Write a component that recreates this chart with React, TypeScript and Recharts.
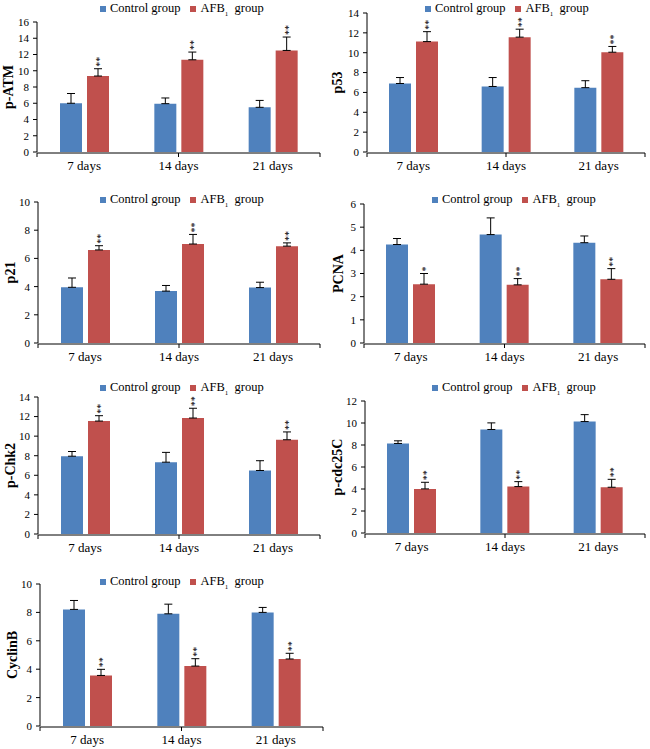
import React from 'react';
import { BarChart, Bar, XAxis, YAxis, Legend, ErrorBar, LabelList } from 'recharts';

const categories = ['7 days', '14 days', '21 days'];
const controlName = 'Control group';
const afbName = 'AFB1 group';

const pAtmControl = [6.0, 5.95, 5.5];
const pAtmControlErr = [1.2, 0.7, 0.85];
const pAtmAfb = [9.35, 11.35, 12.5];
const pAtmAfbErr = [0.9, 0.95, 1.65];
const pAtmStars = ['**', '**', '**'];
const pAtmTicks = [0, 2, 4, 6, 8, 10, 12, 14, 16];

const p53Control = [6.9, 6.6, 6.48];
const p53ControlErr = [0.6, 0.9, 0.7];
const p53Afb = [11.12, 11.57, 10.05];
const p53AfbErr = [1.0, 0.8, 0.58];
const p53Stars = ['**', '**', '**'];
const p53Ticks = [0, 2, 4, 6, 8, 10, 12, 14];

const p21Control = [3.95, 3.68, 3.93];
const p21ControlErr = [0.66, 0.4, 0.38];
const p21Afb = [6.6, 7.02, 6.87];
const p21AfbErr = [0.3, 0.68, 0.23];
const p21Stars = ['**', '**', '**'];
const p21Ticks = [0, 2, 4, 6, 8, 10];

const pcnaControl = [4.25, 4.68, 4.33];
const pcnaControlErr = [0.26, 0.72, 0.29];
const pcnaAfb = [2.54, 2.51, 2.75];
const pcnaAfbErr = [0.46, 0.27, 0.46];
const pcnaStars = ['*', '**', '**'];
const pcnaTicks = [0, 1, 2, 3, 4, 5, 6];

const chk2Control = [7.95, 7.34, 6.49];
const chk2ControlErr = [0.48, 1.0, 1.0];
const chk2Afb = [11.54, 11.85, 9.63];
const chk2AfbErr = [0.55, 1.0, 0.8];
const chk2Stars = ['**', '**', '**'];
const chk2Ticks = [0, 2, 4, 6, 8, 10, 12, 14];

const cdcControl = [8.14, 9.41, 10.13];
const cdcControlErr = [0.24, 0.6, 0.63];
const cdcAfb = [4.01, 4.22, 4.16];
const cdcAfbErr = [0.6, 0.45, 0.72];
const cdcStars = ['**', '**', '**'];
const cdcTicks = [0, 2, 4, 6, 8, 10, 12];

const cyclinControl = [8.21, 7.9, 8.0];
const cyclinControlErr = [0.63, 0.68, 0.35];
const cyclinAfb = [3.56, 4.22, 4.72];
const cyclinAfbErr = [0.43, 0.52, 0.4];
const cyclinStars = ['**', '**', '**'];
const cyclinTicks = [0, 2, 4, 6, 8, 10];

const boundaryTicks = [0, 1, 2, 3];

const BLUE = '#4F81BD';
const RED = '#C0504D';
const SERIF = '"Liberation Serif", "Times New Roman", serif';

type Row = {
  name: string;
  control: number;
  controlErr: number[];
  afb: number;
  afbErr: number[];
  stars: string;
};

function buildRows(c: number[], ce: number[], a: number[], ae: number[], s: string[]): Row[] {
  return categories.map((name, i) => ({
    name,
    control: c[i],
    controlErr: [0, ce[i]],
    afb: a[i],
    afbErr: [0, ae[i]],
    stars: s[i],
  }));
}

const panels = [
  { title: 'p-ATM', rows: buildRows(pAtmControl, pAtmControlErr, pAtmAfb, pAtmAfbErr, pAtmStars), ticks: pAtmTicks,
    pos: { left: 0, top: 0, w: 325, h: 190, yW: 37, mt: 22, mb: 36, mr: 5, tx: 8, lx: 100, ly: 9 } },
  { title: 'p53', rows: buildRows(p53Control, p53ControlErr, p53Afb, p53AfbErr, p53Stars), ticks: p53Ticks,
    pos: { left: 325, top: 0, w: 325, h: 190, yW: 42, mt: 13, mb: 36, mr: 5, tx: 12, lx: 100, ly: 9 } },
  { title: 'p21', rows: buildRows(p21Control, p21ControlErr, p21Afb, p21AfbErr, p21Stars), ticks: p21Ticks,
    pos: { left: 0, top: 190, w: 325, h: 190, yW: 38, mt: 12, mb: 35, mr: 5, tx: 10, lx: 100, ly: 10 } },
  { title: 'PCNA', rows: buildRows(pcnaControl, pcnaControlErr, pcnaAfb, pcnaAfbErr, pcnaStars), ticks: pcnaTicks,
    pos: { left: 325, top: 190, w: 325, h: 190, yW: 39, mt: 14, mb: 35, mr: 5, tx: 13, lx: 107, ly: 10 } },
  { title: 'p-Chk2', rows: buildRows(chk2Control, chk2ControlErr, chk2Afb, chk2AfbErr, chk2Stars), ticks: chk2Ticks,
    pos: { left: 0, top: 380, w: 325, h: 190, yW: 38, mt: 17, mb: 34, mr: 5, tx: 10, lx: 100, ly: 8 } },
  { title: 'p-cdc25C', rows: buildRows(cdcControl, cdcControlErr, cdcAfb, cdcAfbErr, cdcStars), ticks: cdcTicks,
    pos: { left: 325, top: 380, w: 325, h: 190, yW: 40, mt: 21, mb: 35, mr: 5, tx: 12, lx: 107, ly: 8 } },
  { title: 'CyclinB', rows: buildRows(cyclinControl, cyclinControlErr, cyclinAfb, cyclinAfbErr, cyclinStars), ticks: cyclinTicks,
    pos: { left: 0, top: 560, w: 325, h: 189, yW: 40, mt: 24, mb: 21, mr: 2, tx: 12, lx: 100, ly: 22 } },
];

const makeStarLabel = (rows: Row[]) => (props: any) => {
  const { x, y, width, height, index } = props;
  const row = rows[index];
  if (!row || !row.stars) return null;
  const pxPerUnit = Number(height) / row.afb;
  const errTop = Number(y) - row.afbErr[1] * pxPerUnit;
  const cx = Number(x) + Number(width) / 2;
  const y0 = errTop - 2;
  return (
    <text
      x={cx}
      y={y0}
      dy="0.5em"
      transform={`rotate(-90 ${cx} ${y0})`}
      style={{ fontSize: 10, fontFamily: SERIF }}
      fill="#000"
      textAnchor="start"
    >
      {row.stars}
    </text>
  );
};

const legendFormatter = (value: any, entry: any) => {
  const key = entry && entry.dataKey;
  if (key === 'control') {
    return <span style={{ color: '#000', fontFamily: SERIF }}>{controlName}</span>;
  }
  return (
    <span style={{ color: '#000', fontFamily: SERIF }}>
      AFB<sub style={{ fontSize: 7, verticalAlign: 'sub' }}>1</sub>{'\u00a0 '}group
    </span>
  );
};

const legendOrder = (item: any) => (item && item.dataKey === 'control' ? 0 : 1);

function Panel({ p }: { p: (typeof panels)[number] }) {
  const { pos } = p;
  const max = p.ticks[p.ticks.length - 1];
  return (
    <div style={{ position: 'absolute', left: pos.left, top: pos.top, width: pos.w, height: pos.h }}>
      <BarChart
        width={pos.w}
        height={pos.h}
        data={p.rows}
        margin={{ top: pos.mt, right: pos.mr, bottom: pos.mb, left: 0 }}
        barGap={5}
        style={{ fontFamily: SERIF }}
      >
        <XAxis
          xAxisId="grid"
          type="number"
          domain={[0, 3]}
          ticks={boundaryTicks}
          allowDataOverflow
          height={1}
          interval={0}
          tickSize={4}
          tickFormatter={() => ''}
          axisLine={{ stroke: '#000' }}
          tickLine={{ stroke: '#000' }}
        />
        <XAxis
          xAxisId="cat"
          dataKey="name"
          height={1}
          axisLine={false}
          tickLine={false}
          tickSize={0}
          tickMargin={9}
          interval={0}
          tick={{ fontSize: 13, fill: '#000', style: { fontFamily: SERIF } }}
        />
        <YAxis
          width={pos.yW}
          domain={[0, max]}
          ticks={p.ticks}
          interval={0}
          allowDataOverflow
          tickSize={4}
          tickMargin={4}
          axisLine={{ stroke: '#000' }}
          tickLine={{ stroke: '#000' }}
          tick={{ fontSize: 11, fill: '#000', style: { fontFamily: SERIF } }}
          label={{
            value: p.title,
            angle: -90,
            position: 'insideLeft',
            offset: pos.tx,
            style: { textAnchor: 'middle', fontWeight: 'bold', fontSize: 14, fill: '#000', fontFamily: SERIF },
          }}
        />
        <Legend
          layout="horizontal"
          verticalAlign="middle"
          align="center"
          iconType="square"
          iconSize={6}
          itemSorter={legendOrder}
          formatter={legendFormatter}
          wrapperStyle={{
            top: pos.ly - 8,
            left: pos.lx,
            width: 'auto',
            fontSize: 12.5,
            lineHeight: '15px',
            fontFamily: SERIF,
            whiteSpace: 'nowrap',
          }}
        />
        <Bar xAxisId="cat" dataKey="control" name={controlName} fill={BLUE} barSize={22} isAnimationActive={false}>
          <ErrorBar dataKey="controlErr" width={4} strokeWidth={1} stroke="#000" direction="y" isAnimationActive={false} />
        </Bar>
        <Bar xAxisId="cat" dataKey="afb" name={afbName} fill={RED} barSize={22} isAnimationActive={false}>
          <ErrorBar dataKey="afbErr" width={4} strokeWidth={1} stroke="#000" direction="y" isAnimationActive={false} />
          <LabelList dataKey="stars" content={makeStarLabel(p.rows)} />
        </Bar>
      </BarChart>
    </div>
  );
}

export default function App() {
  return (
    <div
      style={{
        position: 'absolute',
        left: 0,
        top: 0,
        width: 650,
        height: 749,
        background: '#fff',
        fontFamily: SERIF,
      }}
    >
      {panels.map((p) => (
        <Panel key={p.title} p={p} />
      ))}
    </div>
  );
}
